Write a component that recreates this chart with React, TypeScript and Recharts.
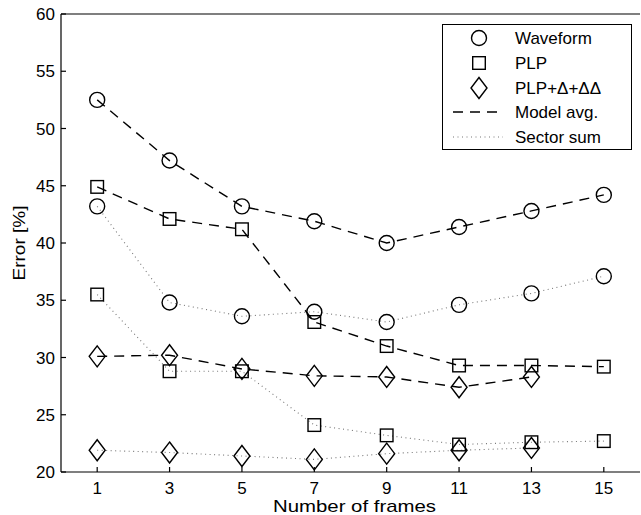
import { LineChart, Line, XAxis, YAxis } from "recharts";

const FONT = '"Liberation Sans", Arial, Helvetica, sans-serif';

// number of frames on the x axis
const frames = [1, 3, 5, 7, 9, 11, 13, 15];

// error [%] per feature type, "model avg." and "sector sum"
const waveformAvg = [52.5, 47.2, 43.2, 41.9, 40.0, 41.4, 42.8, 44.2];
const waveformSum = [43.2, 34.8, 33.6, 34.0, 33.1, 34.6, 35.6, 37.1];
const plpAvg = [44.9, 42.1, 41.2, 33.1, 31.0, 29.3, 29.3, 29.2];
const plpSum = [35.5, 28.8, 28.8, 24.1, 23.2, 22.4, 22.6, 22.7];
const deltaAvg = [30.1, 30.2, 29.0, 28.4, 28.3, 27.4, 28.3, null];
const deltaSum = [21.9, 21.7, 21.4, 21.1, 21.6, 21.9, 22.1, null];

const xTicks = [1, 3, 5, 7, 9, 11, 13, 15];
const yTicks = [20, 25, 30, 35, 40, 45, 50, 55, 60];

const markerLabels = ["Waveform", "PLP", "PLP+\u0394+\u0394\u0394"];
const lineLabels = ["Model avg.", "Sector sum"];

const data = frames.map((f, i) => ({
  frames: f,
  waveformAvg: waveformAvg[i],
  waveformSum: waveformSum[i],
  plpAvg: plpAvg[i],
  plpSum: plpSum[i],
  deltaAvg: deltaAvg[i],
  deltaSum: deltaSum[i],
}));

const MK = { fill: "none", stroke: "#000", strokeWidth: 1.4 };

const Circle = (cx: number, cy: number) => (
  <circle cx={cx} cy={cy} r={7.5} {...MK} />
);
const Square = (cx: number, cy: number) => (
  <rect x={cx - 6.3} y={cy - 6.3} width={12.6} height={12.6} {...MK} />
);
const Diamond = (cx: number, cy: number) => (
  <path
    d={`M${cx},${cy - 10.5}L${cx + 8},${cy}L${cx},${cy + 10.5}L${cx - 8},${cy}Z`}
    {...MK}
  />
);

const makeDot = (shape: (cx: number, cy: number) => any) => (props: any) => {
  const { cx, cy, value, index } = props;
  if (value == null || cy == null || isNaN(cy)) return <g key={`e-${index}`} />;
  return <g key={`d-${index}`}>{shape(cx, cy)}</g>;
};

const dashed = { stroke: "#000", strokeWidth: 1.4, strokeDasharray: "10 7" };
const dotted = { stroke: "#777", strokeWidth: 1.1, strokeDasharray: "1 3.5" };

function XLabel(props: any) {
  const vb = props.viewBox || { x: 61, y: 472, width: 579, height: 43 };
  return (
    <text
      x={vb.x + vb.width / 2 + 4}
      y={vb.y + vb.height - 3}
      textAnchor="middle"
      fontSize={17}
      fontFamily={FONT}
      fill="#000"
      textLength={163}
      lengthAdjust="spacingAndGlyphs"
    >
      Number of frames
    </text>
  );
}

function YLabel(props: any) {
  const vb = props.viewBox || { x: 0, y: 14, width: 61, height: 458 };
  const cx = vb.x + 19;
  const cy = vb.y + vb.height / 2;
  return (
    <text
      x={cx}
      y={cy}
      dy="0.35em"
      transform={`rotate(-90 ${cx} ${cy})`}
      textAnchor="middle"
      fontSize={17}
      fontFamily={FONT}
      fill="#000"
      textLength={75}
      lengthAdjust="spacingAndGlyphs"
    >
      Error [%]
    </text>
  );
}

function LegendBox() {
  const rows = [14, 39, 64, 88, 113];
  const shapes = [Circle, Square, Diamond];
  return (
    <svg
      width={191}
      height={127}
      style={{ position: "absolute", left: 441, top: 23 }}
    >
      <rect x={1.5} y={1.5} width={189} height={125} fill="#fff" stroke="#000" strokeWidth={1} />
      {markerLabels.map((lab, i) => (
        <g key={lab}>
          {shapes[i](38, rows[i] + 1)}
          <text x={74} y={rows[i] + 1} dy="0.35em" fontSize={17} fontFamily={FONT} fill="#000">
            {lab}
          </text>
        </g>
      ))}
      {lineLabels.map((lab, i) => (
        <g key={lab}>
          <line
            x1={12}
            x2={62}
            y1={rows[3 + i] + 1}
            y2={rows[3 + i] + 1}
            {...(i === 0 ? dashed : dotted)}
          />
          <text x={74} y={rows[3 + i] + 1} dy="0.35em" fontSize={17} fontFamily={FONT} fill="#000">
            {lab}
          </text>
        </g>
      ))}
    </svg>
  );
}

export default function App() {
  const tickStyle = { fill: "#000", fontSize: 17, fontFamily: FONT };
  return (
    <div
      style={{
        position: "absolute",
        left: 0,
        top: 0,
        width: 641,
        height: 515,
        background: "#fff",
      }}
    >
      <LineChart
        width={641}
        height={515}
        data={data}
        margin={{ top: 13, right: 0, bottom: 0, left: 0 }}
      >
        <XAxis
          dataKey="frames"
          type="number"
          domain={[0, 16]}
          ticks={xTicks}
          allowDataOverflow
          height={43}
          tickSize={-5}
          tickMargin={15}
          stroke="#000"
          strokeWidth={1.2}
          tick={tickStyle}
          label={<XLabel />}
        />
        <XAxis
          xAxisId="top"
          orientation="top"
          dataKey="frames"
          type="number"
          domain={[0, 16]}
          ticks={xTicks}
          allowDataOverflow
          height={1}
          tickSize={-5}
          tick={false}
          stroke="#000"
          strokeWidth={1.2}
        />
        <YAxis
          type="number"
          domain={[20, 60]}
          ticks={yTicks}
          allowDataOverflow
          width={61}
          tickSize={-5}
          tickMargin={11}
          stroke="#000"
          strokeWidth={1.2}
          tick={tickStyle}
          label={<YLabel />}
        />
        <YAxis
          yAxisId="right"
          orientation="right"
          type="number"
          domain={[20, 60]}
          ticks={yTicks}
          allowDataOverflow
          width={1}
          tickSize={-5}
          tick={false}
          axisLine={false}
          stroke="#000"
          strokeWidth={1.2}
        />
        <Line dataKey="waveformAvg" type="linear" {...dashed} dot={makeDot(Circle)} activeDot={false} isAnimationActive={false} />
        <Line dataKey="waveformSum" type="linear" {...dotted} dot={makeDot(Circle)} activeDot={false} isAnimationActive={false} />
        <Line dataKey="plpAvg" type="linear" {...dashed} dot={makeDot(Square)} activeDot={false} isAnimationActive={false} />
        <Line dataKey="plpSum" type="linear" {...dotted} dot={makeDot(Square)} activeDot={false} isAnimationActive={false} />
        <Line dataKey="deltaAvg" type="linear" {...dashed} dot={makeDot(Diamond)} activeDot={false} isAnimationActive={false} />
        <Line dataKey="deltaSum" type="linear" {...dotted} dot={makeDot(Diamond)} activeDot={false} isAnimationActive={false} />
      </LineChart>
      <LegendBox />
    </div>
  );
}
